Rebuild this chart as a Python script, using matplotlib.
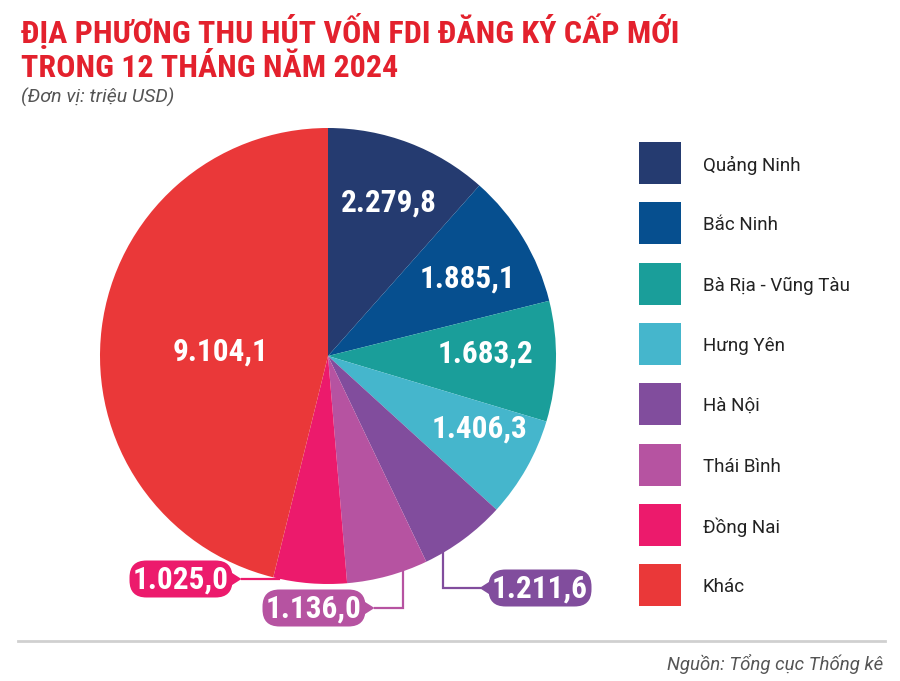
import matplotlib
matplotlib.use("Agg")
import matplotlib.pyplot as plt
import numpy as np
from matplotlib.patches import FancyBboxPatch, Polygon, Rectangle

# --- data ---
regions = ["Quảng Ninh", "Bắc Ninh", "Bà Rịa - Vũng Tàu", "Hưng Yên",
           "Hà Nội", "Thái Bình", "Đồng Nai", "Khác"]
values = [2279.8, 1885.1, 1683.2, 1406.3, 1211.6, 1136.0, 1025.0, 9104.1]
labels = ["2.279,8", "1.885,1", "1.683,2", "1.406,3",
          "1.211,6", "1.136,0", "1.025,0", "9.104,1"]
colors = ["#253b70", "#064f8f", "#1a9e9a", "#45b6cc",
          "#814d9d", "#b653a1", "#ec1a6c", "#ea3839"]

COND = "Roboto Condensed"
plt.rcParams["font.family"] = ["Roboto", "DejaVu Sans"]

fig = plt.figure(figsize=(9, 6.81), dpi=100)
ax = fig.add_axes([0, 0, 1, 1])

# pie (y axis inverted -> counterclock in data is clockwise on screen)
cx, cy, R = 328, 356, 228
wedges, _ = ax.pie(values, colors=colors, startangle=-90, counterclock=True,
                   center=(cx, cy), radius=R, frame=True,
                   wedgeprops=dict(linewidth=0))
ax.set_xlim(0, 900)
ax.set_ylim(681, 0)
ax.axis("off")

# labels inside the big wedges (positions in pixels)
inner_pos = {0: (389, 203), 1: (468, 279), 2: (485, 354), 3: (480, 429),
             7: (221, 352)}
for i, (x, y) in inner_pos.items():
    ax.text(x, y, labels[i], color="white", fontsize=22.5, fontweight="bold",
            family=COND, ha="center", va="center")

# callout boxes for the small wedges
callouts = [
    # idx, box center x, box center y, leader x, side
    (6, 181, 579, 279, "right"),
    (5, 314, 608, 403, "right"),
    (4, 540, 588, 443, "left"),
]
for idx, bx, by, lx, side in callouts:
    c = colors[idx]
    bw, bh = 103, 37
    ax.add_patch(FancyBboxPatch((bx - bw / 2, by - bh / 2), bw, bh,
                                boxstyle="round,pad=0,rounding_size=17",
                                fc=c, ec="none", zorder=3))
    if side == "right":
        ex = bx + bw / 2
        tri = [(ex - 2, by - 7), (ex + 9, by), (ex - 2, by + 7)]
        start = ex + 9
    else:
        ex = bx - bw / 2
        tri = [(ex + 2, by - 7), (ex - 9, by), (ex + 2, by + 7)]
        start = ex - 9
    ax.add_patch(Polygon(tri, closed=True, fc=c, ec="none", zorder=3))
    ey = cy + np.sqrt(R ** 2 - (lx - cx) ** 2) - 5
    ax.plot([start, lx, lx], [by, by, ey], color=c, lw=1.6,
            solid_joinstyle="miter", zorder=2)
    ax.text(bx, by + 1, labels[idx], color="white", fontsize=22.5,
            fontweight="bold", family=COND, ha="center", va="center",
            zorder=4)

# legend
for i, (name, c) in enumerate(zip(regions, colors)):
    y0 = 142 + i * 60.3
    ax.add_patch(Rectangle((639, y0), 42, 42, fc=c, ec="none"))
    ax.text(703, y0 + 23, name, fontsize=13.5, color="#222222",
            ha="left", va="center")

# title and subtitle
ax.text(21, 43, "ĐỊA PHƯƠNG THU HÚT VỐN FDI ĐĂNG KÝ CẤP MỚI", color="#e3212d",
        fontsize=23, fontweight="bold", family=COND, ha="left",
        va="baseline")
ax.text(21, 77, "TRONG 12 THÁNG NĂM 2024", color="#e3212d",
        fontsize=23, fontweight="bold", family=COND, ha="left",
        va="baseline")
ax.text(21, 103, "(Đơn vị: triệu USD)", color="#555555", fontsize=14,
        fontstyle="italic", ha="left", va="baseline")

# footer
ax.plot([18, 885], [641, 641], color="#d0d0d0", lw=2)
ax.text(883, 670, "Nguồn: Tổng cục Thống kê", color="#555555", fontsize=13.4,
        fontstyle="italic", ha="right", va="baseline")

fig.savefig("out.png", dpi=100)
